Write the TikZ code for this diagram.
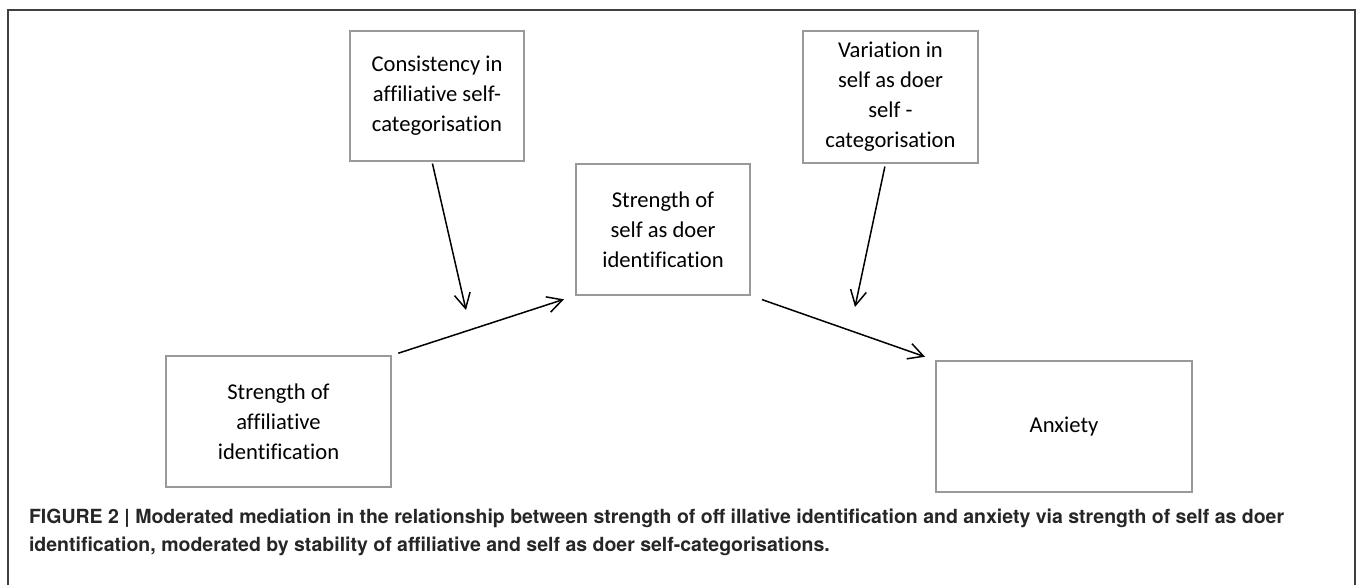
\documentclass[tikz,border=0pt]{standalone}
\usepackage{fontspec}
\setmainfont{Carlito}[Ligatures={NoCommon}]
\newfontfamily\capfont{TeX Gyre Heros}
\usepackage{tikz}
\usetikzlibrary{arrows.meta}

\begin{document}
\begin{tikzpicture}[x=0.5pt,y=-0.5pt]
		\useasboundingbox (0,0) rectangle (1357,585);
		\draw[black!75,line width=0.75pt] (8,585) -- (8,10) -- (1355,10) -- (1355,585);
		\tikzstyle{every node}+=[draw=black!40,line width=0.6pt,rectangle,align=center,inner sep=0pt,font=\fontsize{11.3}{15}\selectfont]
		\node[minimum width=87pt,minimum height=65pt] (cons) at (437,96) {Consistency in\\affiliative self-\\categorisation};
		\node[minimum width=87.5pt,minimum height=66pt] (var) at (890.5,97) {Variation in\\self as doer\\self -\\categorisation};
		\node[minimum width=87pt,minimum height=65.5pt] (doer) at (663,229.5) {Strength of\\self as doer\\identification};
		\node[minimum width=112.5pt,minimum height=65.5pt] (aff) at (278.5,421.5) {Strength of\\affiliative\\identification};
		\node[minimum width=128pt,minimum height=65.5pt] (anx) at (1064,426.5) {Anxiety};
		\tikzstyle{every node}=[]
		\coordinate (m1) at (466,310);
		\coordinate (m2) at (855,307);
		\tikzstyle{arr}=[line width=0.75pt,-{Straight Barb[length=7.5pt,width=8pt]}]
		\draw[arr,shorten <=3.5pt,shorten >=6pt] (aff.north east) -- (doer.south west);
		\draw[arr,shorten <=6pt,shorten >=5.5pt] (doer.south east) -- (anx.north west);
		\draw[arr,shorten <=1pt] ([xshift=-2.5pt]cons.south) -- (m1);
		\draw[arr,shorten <=1.5pt] ([xshift=-2.5pt]var.south) -- (m2);
		\node[anchor=base west,align=left,text=black!85,font=\capfont\bfseries\fontsize{9.75}{14}\selectfont] (cap) at (22,551)
			{FIGURE 2 | Moderated mediation in the relationship between strength of off illative identification and anxiety via strength of self as doer\\
			identification, moderated by stability of affiliative and self as doer self-categorisations.};
\end{tikzpicture}
\end{document}
